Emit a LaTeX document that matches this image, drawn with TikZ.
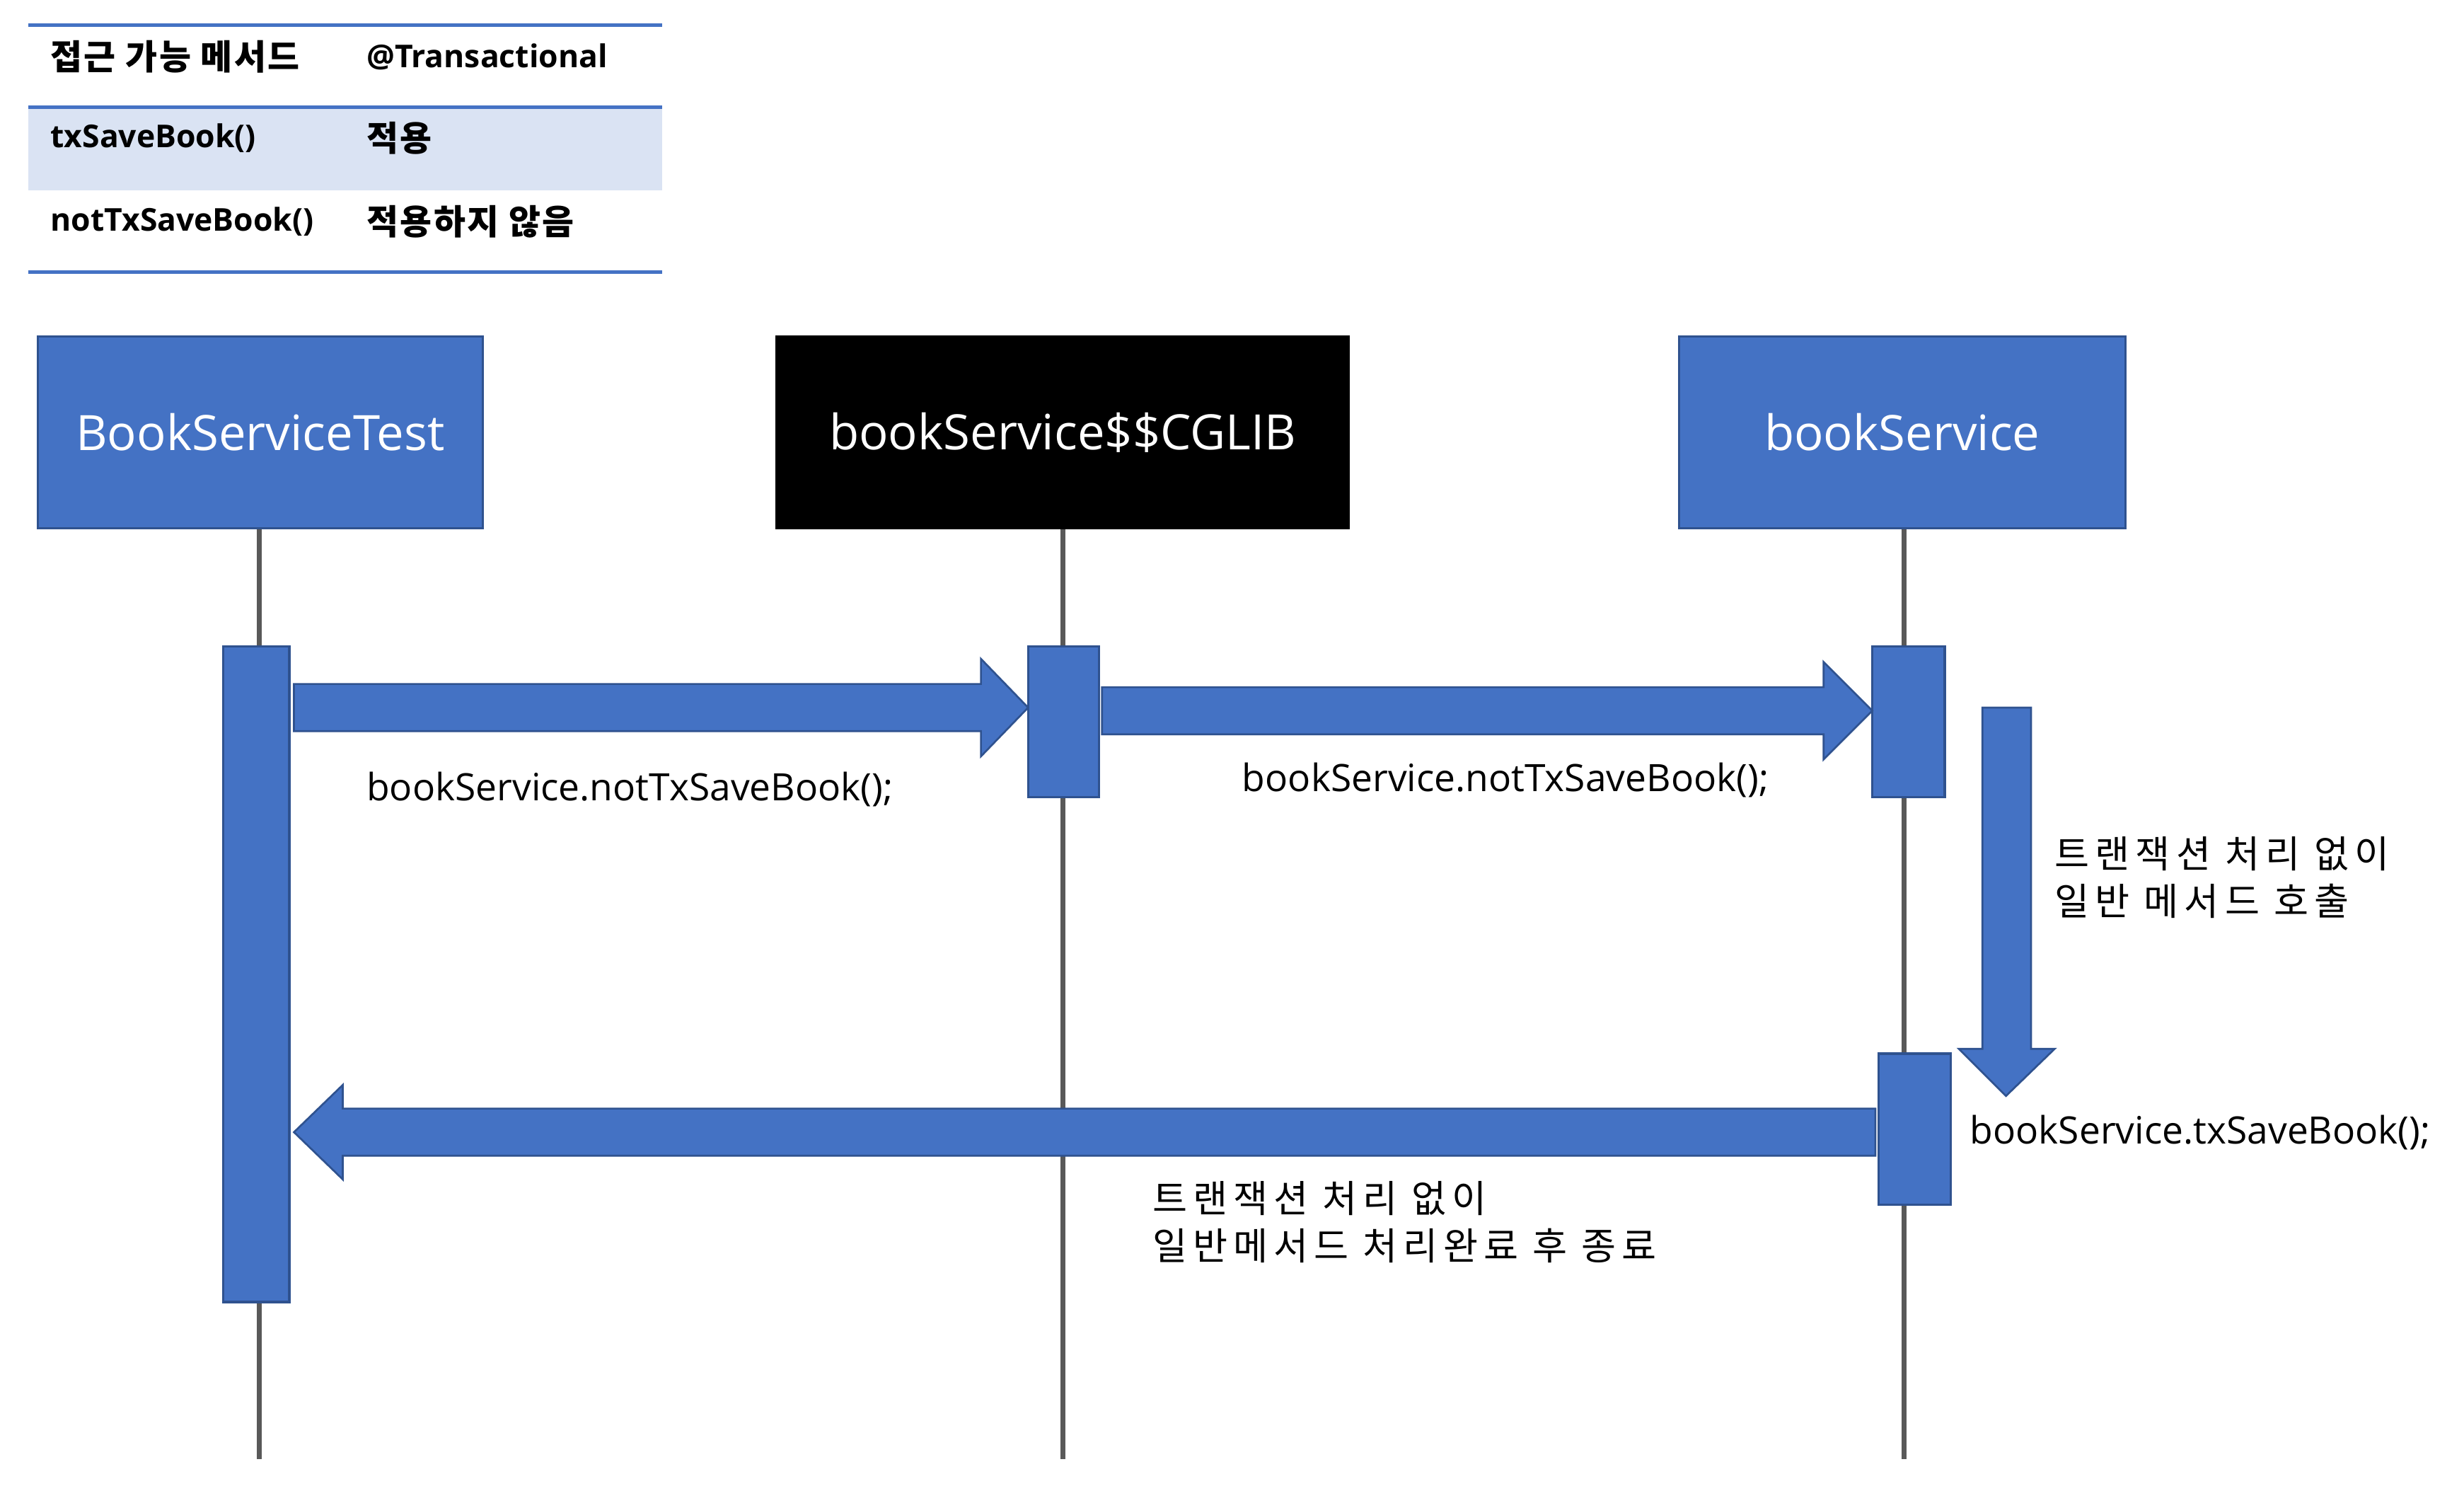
\documentclass[tikz,border=0pt]{standalone}
\usepackage{fontspec}
\setmainfont{Open Sans}
\newfontfamily\kr{Noto Sans CJK KR}
\newfontfamily\krs[LetterSpace=15]{Noto Sans CJK KR}
\newfontfamily\krt[LetterSpace=5]{Noto Sans CJK KR}
\definecolor{blu}{HTML}{4472C4}
\definecolor{bdr}{HTML}{2F528F}
\definecolor{lifec}{HTML}{595959}
\definecolor{tblshade}{HTML}{DAE3F3}
\begin{document}
\begin{tikzpicture}[x=1pt,y=-1pt,
  lbox/.style={draw=bdr, fill=blu, line width=1.5pt, text=white, inner sep=0pt,
    font=\fontsize{31}{36}\selectfont},
  actbar/.style={draw=bdr, fill=blu, line width=1.5pt, inner sep=0pt},
  lifeline/.style={draw=lifec, line width=3.2pt},
  barrow/.style={draw=bdr, fill=blu, line width=1.2pt},
  tline/.style={draw=blu, line width=2.2pt},
  msg/.style={anchor=west, inner sep=0pt, font=\fontsize{24}{29}\selectfont},
  krmsg/.style={anchor=north west, inner sep=0pt, align=left, font=\krs\fontsize{24}{30}\selectfont},
  thead/.style={anchor=west, inner sep=0pt, font=\bfseries\fontsize{20}{24}\selectfont},
  tkr/.style={anchor=west, inner sep=0pt, font=\krt\bfseries\fontsize{22}{24}\selectfont},
]
\useasboundingbox (0,0) rectangle (1567.4,945);

% table
\fill[tblshade] (18,69) rectangle (421,121);
\draw[tline] (18,16) -- (421,16);
\draw[tline] (18,68) -- (421,68);
\draw[tline] (18,173) -- (421,173);
\node[tkr] (h1) at (32,36) {접근 가능 메서드};
\node[thead] (h2) at (233,36) {@Transactional};
\node[thead] (r1a) at (32,88) {txSaveBook()};
\node[tkr] (r1b) at (233,88) {적용};
\node[thead] (r2a) at (32,141) {notTxSaveBook()};
\node[tkr] (r2b) at (233,141) {적용하지 않음};

% participants
\node[lbox, minimum width=283pt, minimum height=122pt] (t1) at (165.5,275) {BookServiceTest};
\node[lbox, fill=black, draw=black, minimum width=364pt, minimum height=122pt] (t2) at (676,275) {bookService\$\$CGLIB};
\node[lbox, minimum width=284pt, minimum height=122pt] (t3) at (1210,275) {bookService};

% lifelines
\coordinate (e1) at (165,928);
\coordinate (e2) at (676,928);
\coordinate (e3) at (1211,928);
\draw[lifeline] (t1.south -| e1) -- (e1);
\draw[lifeline] (t2.south -| e2) -- (e2);
\draw[lifeline] (t3.south -| e3) -- (e3);

% activation bars
\node[actbar, minimum width=42pt, minimum height=417pt] (a1) at (163,619.5) {};
\node[actbar, minimum width=45pt, minimum height=96pt] (a2) at (676.5,459) {};
\node[actbar, minimum width=46pt, minimum height=96pt] (a3) at (1214,459) {};
\node[actbar, minimum width=46pt, minimum height=96pt] (a4) at (1218,718) {};

% block arrows
\draw[barrow] (187,435) -- (624,435) -- (624,419) -- (654,450) -- (624,481) -- (624,465) -- (187,465) -- cycle;
\draw[barrow] (701,437) -- (1160,437) -- (1160,421) -- (1191,452) -- (1160,483) -- (1160,467) -- (701,467) -- cycle;
\draw[barrow] (1261,450) -- (1292,450) -- (1292,667) -- (1307,667) -- (1276,697) -- (1246,667) -- (1261,667) -- cycle;
\draw[barrow] (1193,705) -- (218,705) -- (218,690) -- (187,720) -- (218,750) -- (218,735) -- (1193,735) -- cycle;

% labels
\node[msg] (m1) at (233,502) {bookService.notTxSaveBook();};
\node[msg] (m2) at (790,496) {bookService.notTxSaveBook();};
\node[krmsg] (m3) at (1307,532) {트랜잭션 처리 없이\\일반 메서드 호출};
\node[msg] (m4) at (1253,720) {bookService.txSaveBook();};
\node[krmsg] (m5) at (733,751) {트랜잭션 처리 없이\\일반메서드 처리완료 후 종료};
\end{tikzpicture}
\end{document}
